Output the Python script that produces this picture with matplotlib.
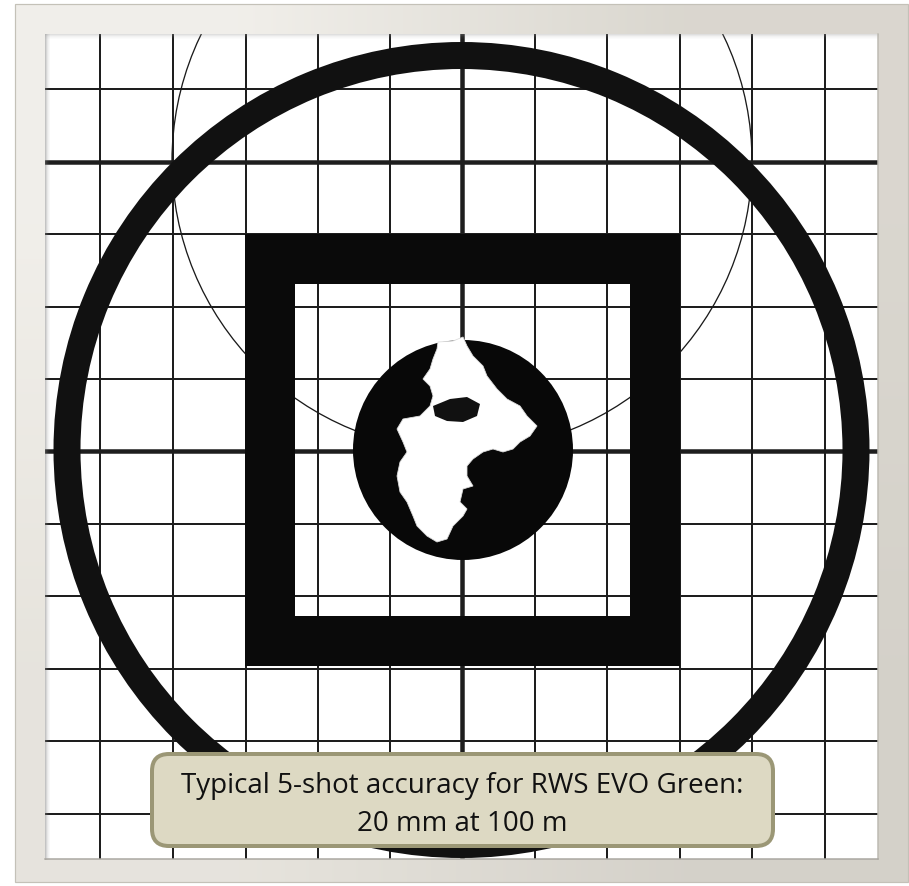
import numpy as np
import matplotlib
matplotlib.use("Agg")
import matplotlib.patches as patches
from matplotlib import pyplot as plt

# target sheet, everything in picture pixels (x right, y down)
grid_x = [100, 173, 246, 318, 390, 462, 535, 607, 680, 752, 825]
grid_y = [90, 163, 235, 308, 380, 452, 525, 597, 670, 742, 815]
thick_x = [462]
thick_y = [163, 452]

sheet = (45, 35, 878, 860)          # white paper left, top, right, bottom
ring_center = (461.5, 451)
ring_outer, ring_width = 408, 27
arc_center = (462, 162)
arc_radius = 290
square_outer = (245, 235, 680, 667)
square_inner = (295, 285, 630, 617)
bull_center = (463, 451)
bull_radius = 110

# white shot group inside the bullseye
splotch_x = [438, 453, 463, 467, 473, 483, 487, 497, 507, 520, 527, 537,
             530, 520, 513, 503, 493, 483, 473, 467, 467, 473, 463, 460,
             467, 463, 453, 447, 437, 427, 417, 413, 407, 400, 397, 400,
             407, 403, 397, 403, 420, 430, 433, 430, 423, 430, 433, 437]
splotch_y = [343, 342, 338, 347, 357, 367, 377, 390, 400, 407, 417, 427,
             437, 443, 450, 453, 450, 453, 460, 467, 477, 487, 490, 503,
             510, 517, 527, 540, 543, 537, 527, 517, 503, 493, 477, 463,
             453, 443, 430, 420, 417, 407, 397, 387, 380, 370, 360, 350]
hole_x = [433, 450, 467, 480, 477, 463, 447, 435]
hole_y = [407, 400, 398, 405, 417, 423, 422, 417]

caption = ["Typical 5-shot accuracy for RWS EVO Green:", "20 mm at 100 m"]

W, H = 909, 887
fig = plt.figure(figsize=(W / 100, H / 100), dpi=100)
fig.patch.set_facecolor("white")
ax = fig.add_axes([0, 0, 1, 1])
ax.set_xlim(0, W)
ax.set_ylim(H, 0)
ax.set_axis_off()

px = 0.72  # points per pixel

# beige frame with a soft diagonal shade
shade = np.array([[[0.945, 0.937, 0.918], [0.855, 0.843, 0.812]],
                  [[0.905, 0.894, 0.867], [0.835, 0.822, 0.792]]])
ax.imshow(shade, extent=(15, 908, 883, 5), interpolation="bilinear",
          aspect="auto", zorder=0)
ax.add_patch(patches.Rectangle((15, 5), 893, 878, fill=False,
                               ec="#c4c1b8", lw=1.2 * px, zorder=1))

l, t, r, b = sheet
paper = patches.Rectangle((l, t), r - l, b - t, fc="white", ec="none", zorder=1)
ax.add_patch(paper)

# bevel shadow on the paper edges
for i, a in enumerate([0.45, 0.3, 0.18, 0.1, 0.05]):
    ax.plot([l + i, l + i], [t, b], color="#7a7a7a", alpha=a, lw=px, zorder=5)
    ax.plot([l, r], [t + i, t + i], color="#9a9a9a", alpha=a * 0.7, lw=px, zorder=5)
ax.plot([r, r], [t, b], color="#bdbab2", lw=1.5 * px, zorder=5)
ax.plot([l, r], [b, b], color="#a9a6a0", lw=1.5 * px, zorder=5)

clip = patches.Rectangle((l, t), r - l, b - t, transform=ax.transData)

for x in grid_x:
    lw = 4.5 if x in thick_x else 2.0
    ln, = ax.plot([x, x], [t, b + 2], color="#1e1e1e", lw=lw * px, zorder=2)
    ln.set_clip_path(clip)
for y in grid_y:
    lw = 4.5 if y in thick_y else 2.0
    ln, = ax.plot([l, r], [y, y], color="#1e1e1e", lw=lw * px, zorder=2)
    ln.set_clip_path(clip)

arc = patches.Circle(arc_center, arc_radius, fill=False, ec="#1a1a1a",
                     lw=1.3 * px, zorder=2.5)
ax.add_patch(arc)
arc.set_clip_path(clip)

ring = patches.Annulus(ring_center, ring_outer, ring_width, fc="#111111",
                       ec="none", zorder=3)
ax.add_patch(ring)
ring.set_clip_path(clip)

x0, y0, x1, y1 = square_outer
ax.add_patch(patches.Rectangle((x0, y0), x1 - x0, y1 - y0, fc="#0a0a0a",
                               ec="none", zorder=3))
x0, y0, x1, y1 = square_inner
ax.add_patch(patches.Rectangle((x0, y0), x1 - x0, y1 - y0, fc="white",
                               ec="none", zorder=3.1))
# grid lines and arc visible again inside the square window
win = patches.Rectangle((x0, y0), x1 - x0, y1 - y0, transform=ax.transData)
for x in grid_x:
    lw = 4.5 if x in thick_x else 2.0
    ln, = ax.plot([x, x], [t, b], color="#1e1e1e", lw=lw * px, zorder=3.2)
    ln.set_clip_path(win)
for y in grid_y:
    lw = 4.5 if y in thick_y else 2.0
    ln, = ax.plot([l, r], [y, y], color="#1e1e1e", lw=lw * px, zorder=3.2)
    ln.set_clip_path(win)
arc2 = patches.Circle(arc_center, arc_radius, fill=False, ec="#1a1a1a",
                      lw=1.3 * px, zorder=3.2)
ax.add_patch(arc2)
arc2.set_clip_path(win)

ax.add_patch(patches.Circle(bull_center, bull_radius, fc="#080808",
                            ec="none", zorder=4))
ax.add_patch(patches.Polygon(np.column_stack([splotch_x, splotch_y]),
                             fc="white", ec="#dddddd", lw=0.8 * px, zorder=4.1))
ax.add_patch(patches.Polygon(np.column_stack([hole_x, hole_y]),
                             fc="#111111", ec="none", zorder=4.2))

# caption box
bx0, by0, bx1, by1 = 152, 755, 773, 847
ax.add_patch(patches.FancyBboxPatch((bx0, by0), bx1 - bx0, by1 - by0,
                                    boxstyle="round,pad=0,rounding_size=17",
                                    fc="#ddd9c3", ec="#9b9776", lw=4 * px,
                                    zorder=6))
cx = (bx0 + bx1) / 2
ax.text(cx, 793, caption[0], ha="center", va="baseline", fontsize=20,
        family=["Open Sans", "DejaVu Sans"], color="#111111", zorder=7)
ax.text(cx, 831, caption[1], ha="center", va="baseline", fontsize=20,
        family=["Open Sans", "DejaVu Sans"], color="#111111", zorder=7)

fig.savefig("out.png", dpi=100)
